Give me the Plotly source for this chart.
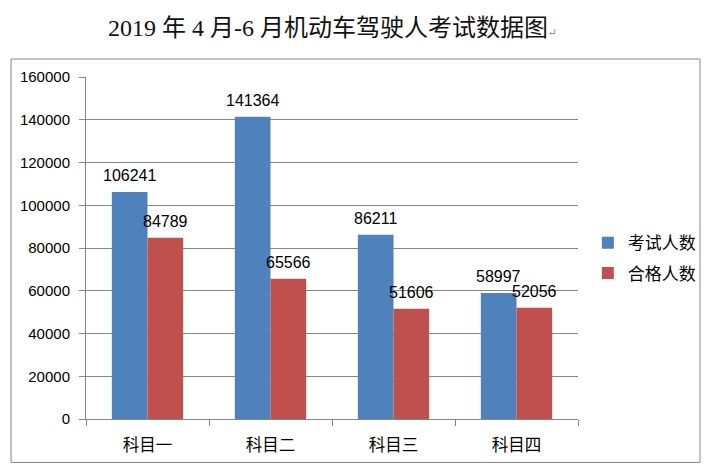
import plotly.graph_objects as go

categories = ["科目一", "科目二", "科目三", "科目四"]
exam_counts = [106241, 141364, 86211, 58997]
pass_counts = [84789, 65566, 51606, 52056]
series_names = ["考试人数", "合格人数"]
y_ticks = [0, 20000, 40000, 60000, 80000, 100000, 120000, 140000, 160000]
title_text = "2019 年 4 月-6 月机动车驾驶人考试数据图"

BLUE = "#4F81BD"
RED = "#C0504D"
GRID = "#878787"
SANS = "Liberation Sans, Noto Sans CJK SC, sans-serif"
CJK = "Noto Sans CJK SC, sans-serif"

fig = go.Figure()
fig.add_trace(go.Bar(name=series_names[0], x=categories, y=exam_counts,
                     marker=dict(color=BLUE, line=dict(width=0)),
                     legendgroup="a"))
fig.add_trace(go.Bar(name=series_names[1], x=categories, y=pass_counts,
                     marker=dict(color=RED, line=dict(width=0)),
                     legendgroup="b"))

annotations = []
for vals, shift in ((exam_counts, -18), (pass_counts, 18)):
    for c, v in zip(categories, vals):
        annotations.append(dict(x=c, y=v, xref="x", yref="y", text=str(v),
                                showarrow=False, xshift=shift, yshift=6,
                                yanchor="bottom", xanchor="center",
                                font=dict(family=SANS, size=16, color="#000000")))

annotations.append(dict(x=0.5, y=1.142, xref="paper", yref="paper",
                        text=title_text + "<span style='font-size:11px;color:#8a8a8a'>↵</span>",
                        showarrow=False, xanchor="center", yanchor="middle",
                        font=dict(family="Liberation Serif, DejaVu Serif, Noto Sans CJK SC, serif",
                                  size=24, color="#111111")))

fig.update_layout(
    width=710, height=469,
    margin=dict(l=78, r=140, t=69, b=58, autoexpand=False),
    paper_bgcolor="white", plot_bgcolor="white",
    barmode="group", bargap=0.42, bargroupgap=0,
    annotations=annotations,
    showlegend=True,
    legend=dict(x=1.02, y=0.47, xanchor="left", yanchor="middle",
                font=dict(family=CJK, size=17, color="#000000"),
                traceorder="grouped", tracegroupgap=5,
                itemwidth=30, bgcolor="rgba(0,0,0,0)"),
    shapes=[dict(type="rect", xref="paper", yref="paper",
                 x0=-0.1524, x1=1.248, y0=-0.127, y1=1.0526,
                 line=dict(color=GRID, width=1), fillcolor="rgba(0,0,0,0)",
                 layer="below")],
)

fig.update_xaxes(showline=True, linecolor=GRID, linewidth=1,
                 ticks="outside", tickson="boundaries", ticklen=6, tickcolor=GRID,
                 tickfont=dict(family=CJK, size=16.5, color="#000000"),
                 ticklabelstandoff=11, showgrid=False)
fig.update_yaxes(range=[0, 160000], tickvals=y_ticks, ticktext=[str(t) for t in y_ticks],
                 showline=True, linecolor=GRID, linewidth=1,
                 ticks="outside", ticklen=6, tickcolor=GRID,
                 showgrid=True, gridcolor=GRID, gridwidth=1, zeroline=False,
                 tickfont=dict(family=SANS, size=15, color="#000000"),
                 ticklabelstandoff=6)

fig.write_html("out.html")
